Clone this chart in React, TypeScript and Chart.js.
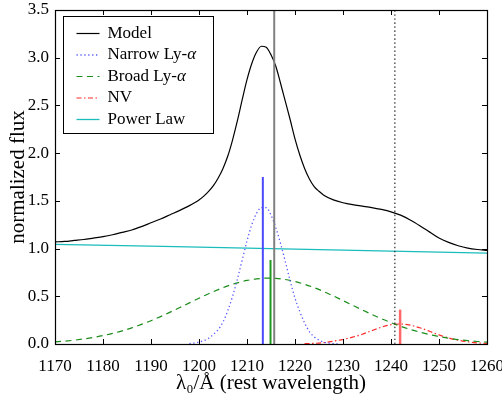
import React, { useEffect, useRef } from "react";
import { Chart, registerables } from "chart.js";

Chart.register(...registerables);

// ---------- data ----------
const xTickValues = [1170, 1180, 1190, 1200, 1210, 1220, 1230, 1240, 1250, 1260];
const yTickValues = [0, 0.5, 1.0, 1.5, 2.0, 2.5, 3.0, 3.5];

const modelWl = [
  1170, 1172, 1174, 1176, 1178, 1180, 1182, 1184, 1186, 1188, 1190, 1192, 1194, 1196, 1198,
  1200, 1201, 1202, 1203, 1204, 1205, 1206, 1207, 1208, 1209, 1210, 1211, 1212, 1213, 1214,
  1215, 1216, 1217, 1218, 1219, 1220, 1221, 1222, 1223, 1224, 1225, 1226, 1228, 1230, 1232,
  1234, 1236, 1238, 1240, 1242, 1244, 1246, 1248, 1250, 1252, 1254, 1256, 1258, 1260,
];
const modelFlux = [
  1.07, 1.075, 1.085, 1.095, 1.11, 1.125, 1.145, 1.17, 1.195, 1.23, 1.27, 1.31, 1.355, 1.4, 1.45,
  1.51, 1.55, 1.6, 1.66, 1.74, 1.84, 1.97, 2.14, 2.34, 2.56, 2.77, 2.94, 3.06, 3.12, 3.11,
  3.03, 2.91, 2.73, 2.54, 2.35, 2.15, 1.98, 1.84, 1.73, 1.65, 1.6, 1.56, 1.51, 1.48, 1.46,
  1.445, 1.43, 1.41, 1.385, 1.35, 1.3, 1.24, 1.175, 1.11, 1.065, 1.03, 1.005, 0.99, 0.98,
];

const narrowWl = [
  1198, 1199, 1200, 1201, 1202, 1203, 1204, 1205, 1206, 1207, 1208, 1209, 1210, 1211, 1212, 1213,
  1214, 1215, 1216, 1217, 1218, 1219, 1220, 1221, 1222, 1223, 1224, 1225, 1226, 1227, 1228, 1229,
];
const narrowFlux = [
  0.005, 0.01, 0.02, 0.035, 0.06, 0.1, 0.15, 0.23, 0.35, 0.5, 0.68, 0.88, 1.08, 1.25, 1.37, 1.43,
  1.43, 1.35, 1.22, 1.05, 0.86, 0.66, 0.48, 0.34, 0.22, 0.13, 0.075, 0.04, 0.02, 0.01, 0.004, 0.0,
];

const broadWl = [
  1170, 1172, 1174, 1176, 1178, 1180, 1182, 1184, 1186, 1188, 1190, 1192, 1194, 1196, 1198, 1200,
  1202, 1204, 1206, 1208, 1210, 1212, 1214, 1216, 1218, 1220, 1222, 1224, 1226, 1228, 1230, 1232,
  1234, 1236, 1238, 1240, 1242, 1244, 1246, 1248, 1250, 1252, 1254, 1256, 1258, 1260,
];
const broadFlux = [
  0.022, 0.03, 0.04, 0.053, 0.069, 0.088, 0.111, 0.138, 0.169, 0.205, 0.244, 0.287, 0.334, 0.382,
  0.431, 0.48, 0.527, 0.57, 0.609, 0.641, 0.666, 0.682, 0.69, 0.687, 0.676, 0.655, 0.626, 0.59,
  0.549, 0.503, 0.455, 0.406, 0.357, 0.31, 0.265, 0.224, 0.186, 0.153, 0.124, 0.099, 0.078, 0.061,
  0.046, 0.035, 0.026, 0.019,
];

const nvWl = [
  1222, 1224, 1226, 1228, 1230, 1232, 1234, 1236, 1238, 1240, 1242, 1244, 1246, 1248, 1250, 1252,
  1254, 1256, 1258, 1260,
];
const nvFlux = [
  0.003, 0.007, 0.014, 0.03, 0.047, 0.072, 0.102, 0.14, 0.176, 0.202, 0.21, 0.197, 0.17, 0.134,
  0.095, 0.064, 0.04, 0.023, 0.012, 0.006,
];

const powerWl = [1170, 1215, 1260];
const powerFlux = [1.045, 0.999, 0.953];

// fitted line centres (short vertical markers) and their heights
const markerWl = [1213.3, 1214.9, 1241.9];
const markerHeight = [1.75, 0.88, 0.36];

// rest wavelengths of Ly-alpha and NV (full-height reference lines)
const restWl = [1215.67, 1240.81];
const yMax = 3.5;

// ---------------------------------------------------
const SERIF = '"Liberation Serif", "DejaVu Serif", serif';

const zip = (xs: number[], ys: number[]) => xs.map((x, i) => ({ x, y: ys[i] }));

const framePlugin = {
  id: "frameTicks",
  afterDatasetsDraw(chart: any) {
    const { ctx, chartArea, scales } = chart;
    const { left, right, top, bottom } = chartArea;
    const tl = 5;
    ctx.save();
    ctx.strokeStyle = "#000";
    ctx.lineWidth = 1;
    ctx.setLineDash([]);
    ctx.beginPath();
    xTickValues.forEach((v) => {
      const px = Math.round(scales.x.getPixelForValue(v)) + 0.5;
      ctx.moveTo(px, bottom);
      ctx.lineTo(px, bottom - tl);
      ctx.moveTo(px, top);
      ctx.lineTo(px, top + tl);
    });
    yTickValues.forEach((v) => {
      const py = Math.round(scales.y.getPixelForValue(v)) + 0.5;
      ctx.moveTo(left, py);
      ctx.lineTo(left + tl, py);
      ctx.moveTo(right, py);
      ctx.lineTo(right - tl, py);
    });
    ctx.stroke();
    ctx.lineWidth = 1.2;
    ctx.strokeRect(Math.round(left) + 0.5, Math.round(top) + 0.5, Math.round(right - left), Math.round(bottom - top));
    ctx.restore();
  },
};

const legendPlugin = {
  id: "boxLegend",
  afterDraw(chart: any) {
    const { ctx, chartArea } = chart;
    const items = chart.data.datasets.filter((d: any) => d.showInLegend);
    const x0 = Math.round(chartArea.left) + 8.5;
    const y0 = Math.round(chartArea.top) + 6.5;
    const w = 150;
    const h = 117;
    ctx.save();
    ctx.fillStyle = "#fff";
    ctx.fillRect(x0, y0, w, h);
    ctx.strokeStyle = "#000";
    ctx.lineWidth = 1;
    ctx.setLineDash([]);
    ctx.strokeRect(x0, y0, w, h);
    items.forEach((d: any, i: number) => {
      const y = y0 + 17 + i * 21.5;
      ctx.beginPath();
      ctx.strokeStyle = d.borderColor;
      ctx.lineWidth = d.borderWidth;
      ctx.setLineDash(d.borderDash || []);
      ctx.moveTo(x0 + 13, y);
      ctx.lineTo(x0 + 36, y);
      ctx.stroke();
      ctx.setLineDash([]);
      ctx.fillStyle = "#000";
      ctx.textBaseline = "middle";
      ctx.textAlign = "left";
      const parts = String(d.label).split("α");
      let tx = x0 + 44;
      parts.forEach((p: string, j: number) => {
        ctx.font = `17px ${SERIF}`;
        ctx.fillText(p, tx, y);
        tx += ctx.measureText(p).width;
        if (j < parts.length - 1) {
          ctx.font = `italic 17px ${SERIF}`;
          ctx.fillText("α", tx, y);
          tx += ctx.measureText("α").width;
        }
      });
    });
    ctx.restore();
  },
};

export default function App() {
  const canvasRef = useRef<HTMLCanvasElement | null>(null);

  useEffect(() => {
    document.body.style.margin = "0";
    const canvas = canvasRef.current;
    if (!canvas) return;

    const datasets: any[] = [
      {
        label: "Model",
        data: zip(modelWl, modelFlux),
        borderColor: "#000000",
        borderWidth: 1.2,
        showInLegend: true,
        order: 3,
      },
      {
        label: "Narrow Ly-α",
        data: zip(narrowWl, narrowFlux),
        borderColor: "#5a5aff",
        borderWidth: 1.3,
        borderDash: [1.3, 2.6],
        showInLegend: true,
        order: 4,
      },
      {
        label: "Broad Ly-α",
        data: zip(broadWl, broadFlux),
        borderColor: "#1a8c1a",
        borderWidth: 1.2,
        borderDash: [6, 4.5],
        showInLegend: true,
        order: 5,
      },
      {
        label: "NV",
        data: zip(nvWl, nvFlux),
        borderColor: "#ff2a2a",
        borderWidth: 1.2,
        borderDash: [5, 2.5, 1.5, 2.5],
        showInLegend: true,
        order: 6,
      },
      {
        label: "Power Law",
        data: zip(powerWl, powerFlux),
        borderColor: "#1bbcbc",
        borderWidth: 1.3,
        showInLegend: true,
        order: 4,
      },
      {
        label: "Ly-α rest",
        data: [
          { x: restWl[0], y: 0 },
          { x: restWl[0], y: yMax },
        ],
        borderColor: "#808080",
        borderWidth: 2,
        order: 1,
      },
      {
        label: "NV rest",
        data: [
          { x: restWl[1], y: 0 },
          { x: restWl[1], y: yMax },
        ],
        borderColor: "#000000",
        borderWidth: 1,
        borderDash: [1.5, 2.5],
        order: 1,
      },
      {
        label: "narrow centre",
        data: [
          { x: markerWl[0], y: 0 },
          { x: markerWl[0], y: markerHeight[0] },
        ],
        borderColor: "#4a4aff",
        borderWidth: 2,
        order: 0,
      },
      {
        label: "broad centre",
        data: [
          { x: markerWl[1], y: 0 },
          { x: markerWl[1], y: markerHeight[1] },
        ],
        borderColor: "#229922",
        borderWidth: 2,
        order: 0,
      },
      {
        label: "NV centre",
        data: [
          { x: markerWl[2], y: 0 },
          { x: markerWl[2], y: markerHeight[2] },
        ],
        borderColor: "#ff6868",
        borderWidth: 2.5,
        order: 0,
      },
    ];

    const chart = new Chart(canvas, {
      type: "line",
      data: { datasets },
      options: {
        animation: false,
        responsive: false,
        devicePixelRatio: 1,
        parsing: false as any,
        layout: { padding: { top: 10, right: 15, left: 0, bottom: 0 } },
        elements: {
          point: { radius: 0, hoverRadius: 0 },
          line: { tension: 0, cubicInterpolationMode: "monotone", fill: false },
        },
        plugins: {
          legend: { display: false },
          tooltip: { enabled: false },
        },
        scales: {
          x: {
            type: "linear",
            min: 1170,
            max: 1260,
            grid: { display: false, drawTicks: false },
            border: { display: false },
            afterBuildTicks: (s: any) => {
              s.ticks = xTickValues.map((v) => ({ value: v }));
            },
            afterFit: (s: any) => {
              s.height = 63;
              s.paddingLeft = 0;
              s.paddingRight = 0;
            },
            ticks: {
              color: "#000",
              padding: 12,
              maxRotation: 0,
              autoSkip: false,
              font: { family: SERIF, size: 17 },
              callback: (v: any) => String(v),
            },
            title: {
              display: true,
              text: "λ₀/Å (rest wavelength)",
              color: "#000",
              font: { family: SERIF, size: 21 },
              padding: { top: 0, bottom: 11 },
            },
          },
          y: {
            type: "linear",
            min: 0,
            max: yMax,
            grid: { display: false, drawTicks: false },
            border: { display: false },
            afterBuildTicks: (s: any) => {
              s.ticks = yTickValues.map((v) => ({ value: v }));
            },
            afterFit: (s: any) => {
              s.width = 55;
              s.paddingTop = 0;
              s.paddingBottom = 0;
            },
            ticks: {
              color: "#000",
              padding: 6,
              autoSkip: false,
              font: { family: SERIF, size: 17 },
              callback: (v: any) => Number(v).toFixed(1),
            },
            title: {
              display: true,
              text: "normalized flux",
              color: "#000",
              font: { family: SERIF, size: 21 },
              padding: { top: 6, bottom: 0 },
            },
          },
        },
      },
      plugins: [framePlugin, legendPlugin],
    });

    return () => chart.destroy();
  }, []);

  return (
    <canvas
      ref={canvasRef}
      width={502}
      height={407}
      style={{ display: "block", width: 502, height: 407 }}
    />
  );
}
